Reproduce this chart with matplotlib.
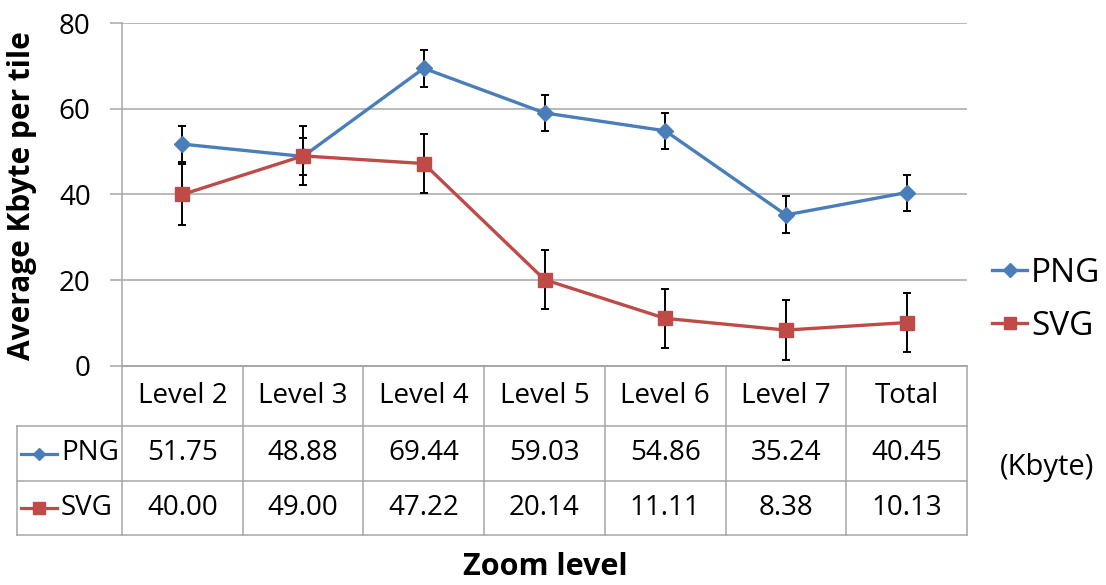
import matplotlib
matplotlib.use('Agg')
import matplotlib.pyplot as plt
from matplotlib.lines import Line2D
import numpy as np

plt.rcParams['font.family'] = ['Open Sans', 'DejaVu Sans']

# Datos
niveles = ['Level 2', 'Level 3', 'Level 4', 'Level 5', 'Level 6', 'Level 7', 'Total']
png = [51.75, 48.88, 69.44, 59.03, 54.86, 35.24, 40.45]
svg = [40.00, 49.00, 47.22, 20.14, 11.11, 8.38, 10.13]
png_err = [4.2, 4.3, 4.3, 4.2, 4.2, 4.3, 4.2]
svg_err = [7.0, 6.9, 6.9, 6.8, 6.9, 6.9, 6.9]
y_ticks = [0, 20, 40, 60, 80]

azul = '#4A7EBB'
rojo = '#BE4B48'
gris = '#A6A6A6'
W, H = 1106, 585

fig = plt.figure(figsize=(W / 100, H / 100), dpi=100)

# Gráfico principal
ax = fig.add_axes([122 / W, 1 - 366 / H, 845 / W, 343 / H])
x = np.arange(len(niveles))
ax.errorbar(x, png, yerr=png_err, color=azul, lw=2.4, marker='D', ms=8,
            ecolor='black', elinewidth=1.4, capsize=3, capthick=1.4, zorder=3)
ax.errorbar(x, svg, yerr=svg_err, color=rojo, lw=2.4, marker='s', ms=10,
            ecolor='black', elinewidth=1.4, capsize=3, capthick=1.4, zorder=4)
ax.set_xlim(-0.5, len(niveles) - 0.5)
ax.set_ylim(0, 80)
ax.set_yticks(y_ticks)
ax.set_xticks([])
ax.grid(axis='y', color=gris, lw=1.1)
ax.set_axisbelow(True)
for s in ['top', 'right']:
    ax.spines[s].set_visible(False)
for s in ['left', 'bottom']:
    ax.spines[s].set_color(gris)
    ax.spines[s].set_linewidth(1.1)
ax.tick_params(axis='y', length=8.5, color=gris, width=1.1, labelsize=20, pad=14)

handles = [Line2D([], [], color=azul, lw=2.4, marker='D', ms=7),
           Line2D([], [], color=rojo, lw=2.4, marker='s', ms=9)]
ax.legend(handles, ['PNG', 'SVG'], loc='center left',
          bbox_to_anchor=(992 / W, 1 - 300 / H), bbox_transform=fig.transFigure,
          frameon=False, fontsize=24, handlelength=1.05, handletextpad=0.12,
          labelspacing=0.6, borderpad=0, borderaxespad=0)

fig.text(22 / W, 1 - 196 / H, 'Average Kbyte per tile', rotation=90,
         ha='center', va='center', fontsize=21.5, fontweight='bold')

# Tabla de datos
ancho = 845 / len(niveles)
xl = -0.5 - 105 / ancho
tax = fig.add_axes([17 / W, 1 - 535 / H, 950 / W, 169 / H])
tax.set_xlim(xl, len(niveles) - 0.5)
tax.set_ylim(535, 366)
tax.axis('off')
filas = [366, 426, 481, 535]
for i in range(len(niveles) + 1):
    tax.plot([i - 0.5, i - 0.5], [366, 535], color=gris, lw=1.1, clip_on=False)
tax.plot([xl, xl], [426, 535], color=gris, lw=1.1, clip_on=False)
tax.plot([-0.5, len(niveles) - 0.5], [366, 366], color=gris, lw=1.1, clip_on=False)
for yy in filas[1:]:
    tax.plot([xl, len(niveles) - 0.5], [yy, yy], color=gris, lw=1.1, clip_on=False)

ym = [(filas[k] + filas[k + 1]) / 2 for k in range(3)]
for i, nv in enumerate(niveles):
    tax.text(i, ym[0], nv, ha='center', va='center', fontsize=20)
    tax.text(i, ym[1], f'{png[i]:.2f}', ha='center', va='center', fontsize=20)
    tax.text(i, ym[2], f'{svg[i]:.2f}', ha='center', va='center', fontsize=20)

for yy, nombre, c, m, ms in [(ym[1], 'PNG', azul, 'D', 6), (ym[2], 'SVG', rojo, 's', 8)]:
    x0, x1 = xl + 4 / ancho, xl + 40 / ancho
    tax.plot([x0, x1], [yy, yy], color=c, lw=2.3, clip_on=False)
    tax.plot([(x0 + x1) / 2], [yy], marker=m, color=c, ms=ms, clip_on=False)
    tax.text(xl + 44 / ancho, yy, nombre, ha='left', va='center', fontsize=20)

fig.text(1047 / W, 1 - 468 / H, '(Kbyte)', ha='center', va='center', fontsize=21)
fig.text(545 / W, 1 - 567 / H, 'Zoom level', ha='center', va='center',
         fontsize=22, fontweight='bold')

plt.savefig('out.png', dpi=100)
